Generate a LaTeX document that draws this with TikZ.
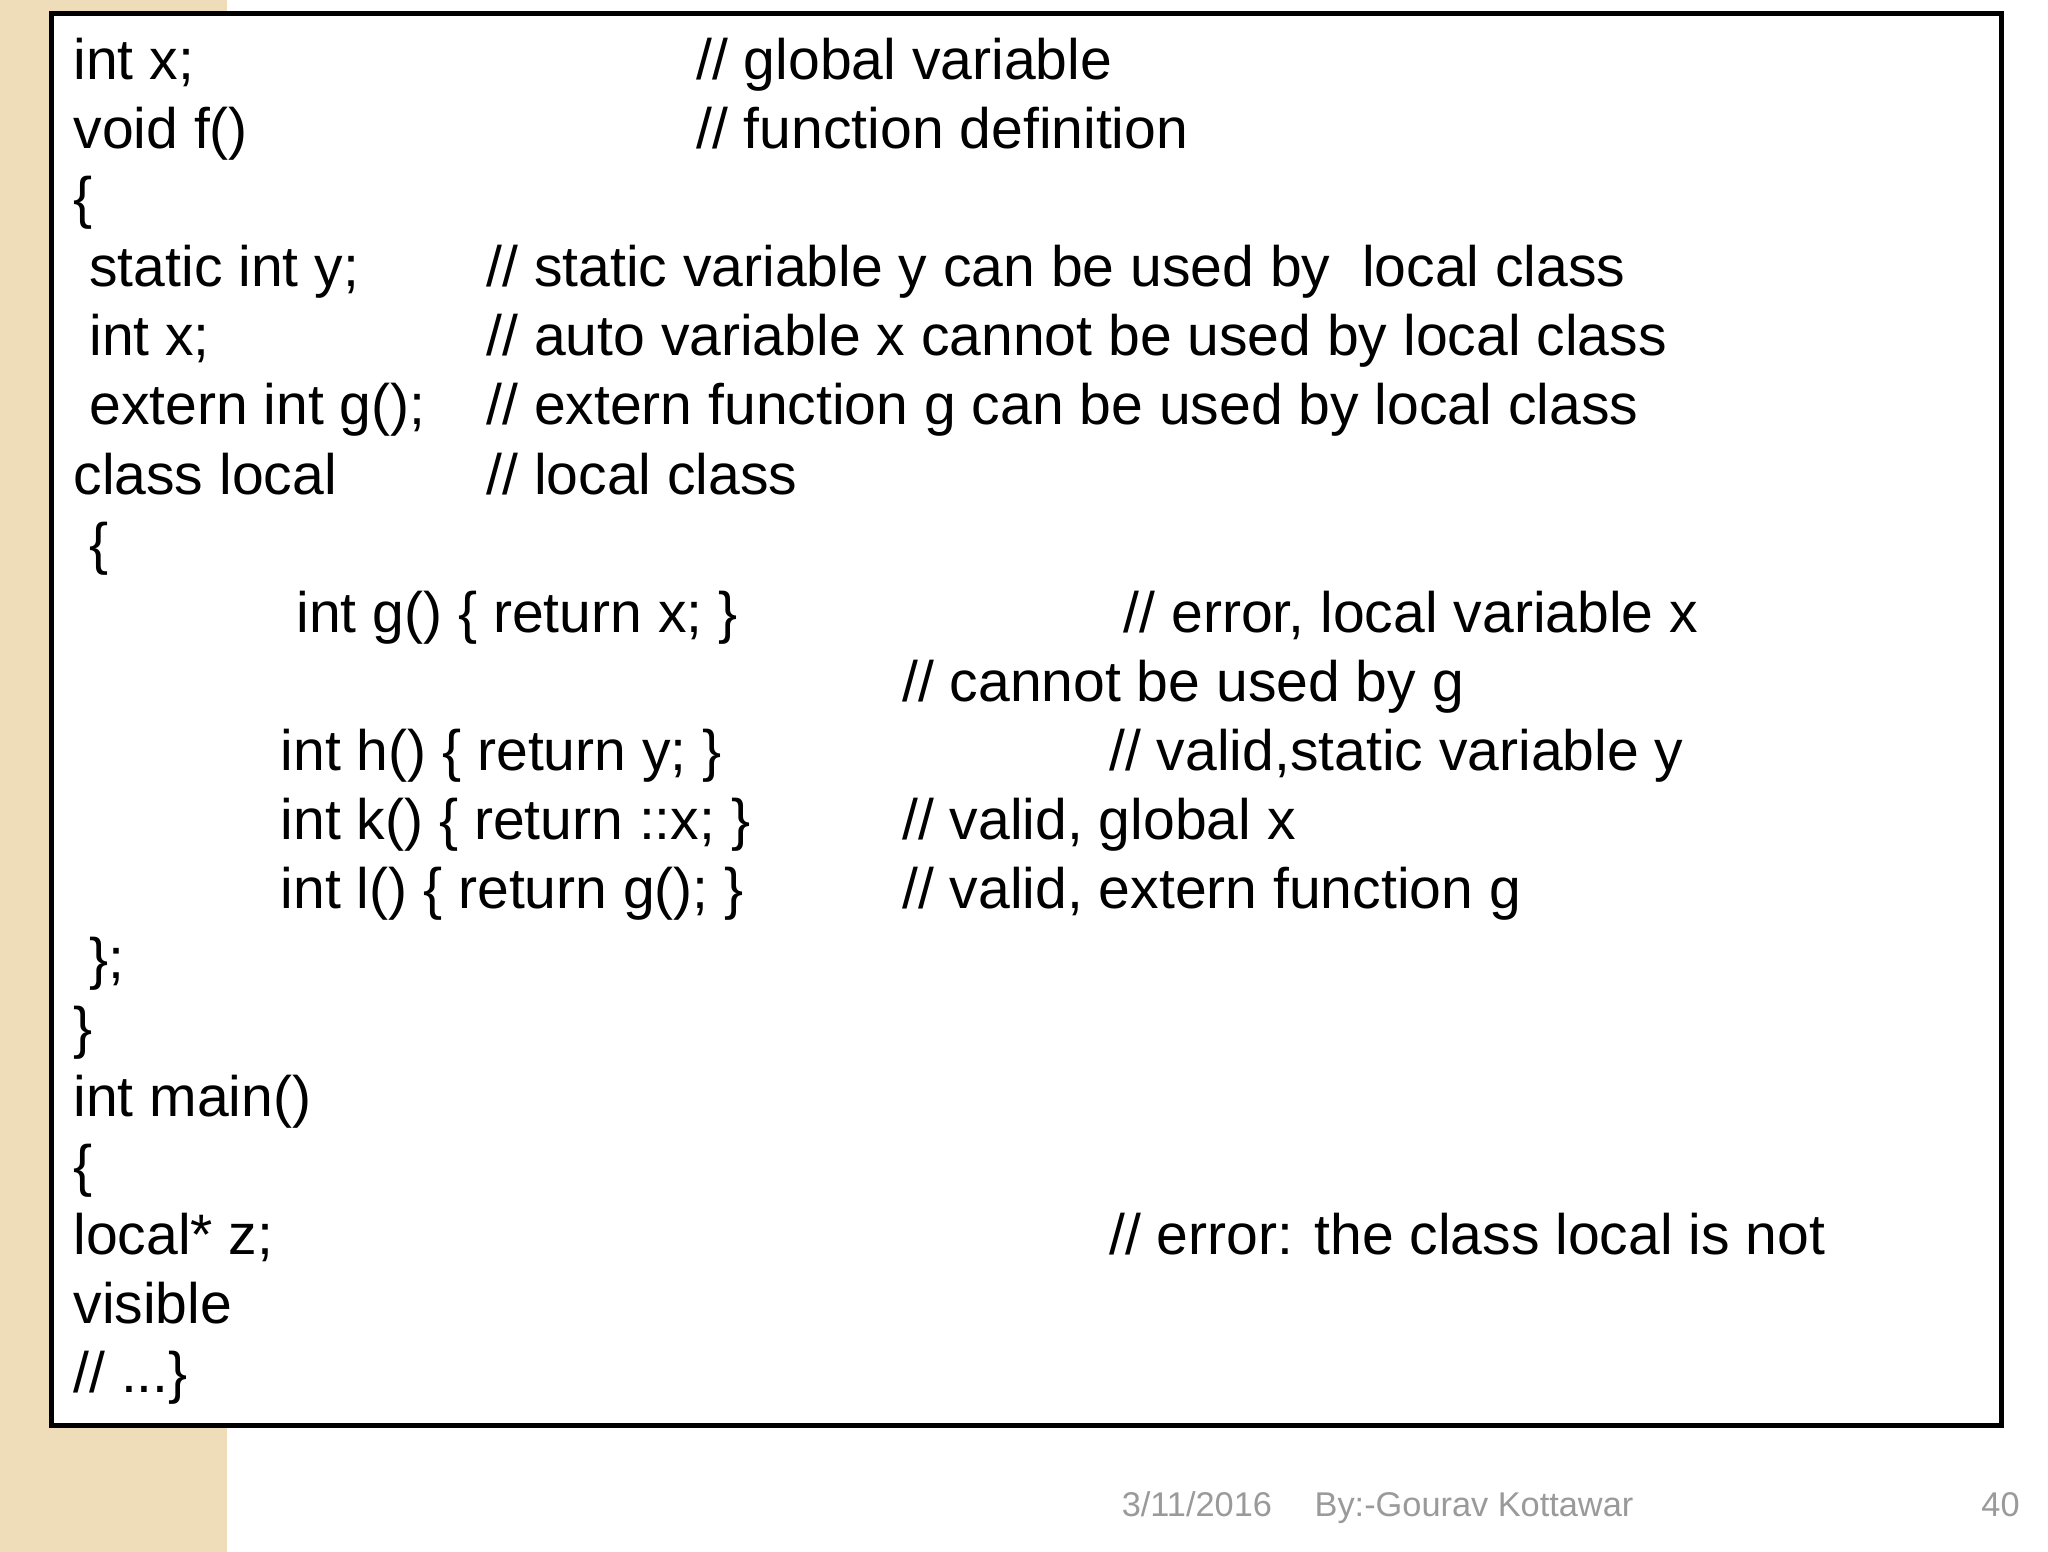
\documentclass[tikz,border=0pt]{standalone}
\usepackage{fontspec}
\setmainfont{Liberation Sans}
\definecolor{strip}{HTML}{EEDDB8}
\definecolor{footgray}{HTML}{9A9A9A}
\tikzset{code/.style={anchor=base west,inner sep=0pt,font=\fontsize{12.3pt}{14pt}\selectfont},
foot/.style={anchor=base,inner sep=0pt,text=footgray,font=\fontsize{7.4pt}{9pt}\selectfont}}
\begin{document}
\begin{tikzpicture}[x=0.01cm,y=-0.01cm]
\useasboundingbox (0,0) rectangle (1552,1176);
\fill[white] (0,0) rectangle (1552,1176);
\fill[strip] (0,0) rectangle (172,1176);
\fill[white] (39,10) rectangle (1517,1080);
\draw[line width=1.1pt] (39,10) rectangle (1517,1080);
\newcommand\codeln[3]{\node[code] (n#1x#2) at (#2,{60+52.4*#1}) {#3};}
\codeln{0}{55}{int x;}\codeln{0}{527}{// global variable}
\codeln{1}{55}{void f()}\codeln{1}{527}{// function definition}
\codeln{2}{55}{\{}
\codeln{3}{67}{static int y;}\codeln{3}{368}{// static variable y can be used by\ \ local class}
\codeln{4}{67}{int x;}\codeln{4}{368}{// auto variable x cannot be used by local class}
\codeln{5}{67}{extern int g();}\codeln{5}{368}{// extern function g can be used by local class}
\codeln{6}{55}{class local}\codeln{6}{368}{// local class}
\codeln{7}{67}{\{}
\codeln{8}{224}{int g() \{ return x; \}}\codeln{8}{851}{// error, local variable x}
\codeln{9}{683}{// cannot be used by g}
\codeln{10}{212}{int h() \{ return y; \}}\codeln{10}{840}{// valid,static variable y}
\codeln{11}{212}{int k() \{ return ::x; \}}\codeln{11}{683}{// valid, global x}
\codeln{12}{212}{int l() \{ return g(); \}}\codeln{12}{683}{// valid, extern function g}
\codeln{13}{67}{\};}
\codeln{14}{55}{\}}
\codeln{15}{55}{int main()}
\codeln{16}{55}{\{}
\codeln{17}{55}{local* z;}\codeln{17}{840}{// error: the class local is not}
\codeln{18}{55}{visible}
\codeln{19}{55}{// ...\}}
\node[foot] (date) at (907,1149) {3/11/2016};
\node[foot] (by) at (1117,1149) {By:-Gourav Kottawar};
\node[foot] (pg) at (1516,1149) {40};
\end{tikzpicture}
\end{document}
